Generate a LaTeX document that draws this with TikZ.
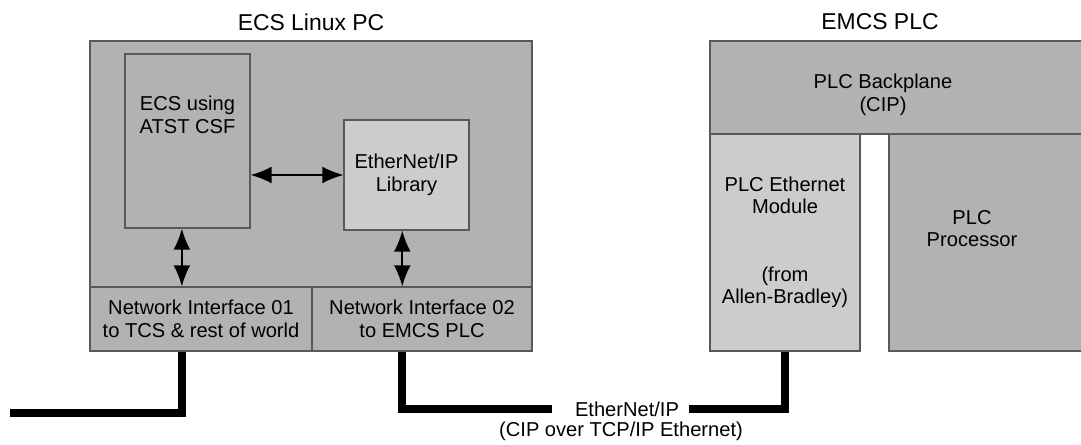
\documentclass[tikz,border=0pt]{standalone}
\usepackage{fontspec}
\setmainfont{Liberation Sans}
\usetikzlibrary{arrows.meta}

\tikzset{
    darkbox/.style={draw=black!65, line width=0.8pt, fill=black!30, inner sep=0pt, align=center},
    lightbox/.style={draw=black!65, line width=0.8pt, fill=black!20, inner sep=0pt, align=center},
    txt/.style={align=center, inner sep=0pt, font=\fontsize{14.3}{16}\selectfont},
    title/.style={inner sep=0pt, font=\fontsize{16.3}{18}\selectfont},
    link/.style={{Latex[length=15pt,width=12pt]}-{Latex[length=15pt,width=12pt]}, line width=1.3pt},
    cable/.style={line width=5.7pt, line join=miter}
}

\begin{document}
\begin{tikzpicture}[x=0.025cm, y=-0.025cm]
        \useasboundingbox (0,0) rectangle (1081,445);

        % Draw the ECS Linux PC and its parts
        \node[title] (pctitle) at (311,22) {ECS Linux PC};
        \node[darkbox, minimum width=11.05cm, minimum height=6.15cm] (pc) at (311,164) {};
        \node[darkbox, minimum width=3.125cm, minimum height=4.35cm] (ecs) at (187.5,141) {};
        \node[txt] (ecstext) at (187.5,115) {ECS using\\ATST CSF};
        \node[lightbox, txt, minimum width=3.125cm, minimum height=2.75cm] (lib) at (406.5,175) {EtherNet/IP\\Library};
        \node[darkbox, txt, minimum width=5.55cm, minimum height=1.6cm] (nic1) at (201,319) {Network Interface 01\\to TCS \& rest of world};
        \node[darkbox, txt, minimum width=5.5cm, minimum height=1.6cm] (nic2) at (422,319) {Network Interface 02\\to EMCS PLC};

        % Draw the arrows inside the PC
        \draw[link] (lib.west -| ecs.east) -- (lib.west);
        \draw[link] ([xshift=-4pt]ecs.south) -- ([xshift=-4pt]ecs.south |- nic1.north);
        \draw[link] ([xshift=-3pt]lib.south) -- ([xshift=-3pt]lib.south |- nic2.north);

        % Draw the EMCS PLC and its parts
        \node[title] (plctitle) at (880,22) {EMCS PLC};
        \node[darkbox, minimum width=9.75cm, minimum height=2.325cm] (bp) at (905,87.5) {};
        \node[txt] (bptext) at (883,95) {PLC Backplane\\(CIP)};
        \node[lightbox, txt, minimum width=3.75cm, minimum height=5.425cm] (eth) at (785,242.5) {PLC Ethernet\\Module\\[32pt](from\\Allen-Bradley)};
        \node[darkbox, minimum width=5.275cm, minimum height=5.425cm] (proc) at (994.5,242.5) {};
        \node[txt] (proctext) at (972,228.5) {PLC\\Processor};

        % Draw the network cables
        \coordinate (world) at (10,413);
        \node[txt] (eip) at (627,409) {EtherNet/IP};
        \node[txt] (eipsub) at (621,431) {(CIP over TCP/IP Ethernet)};
        \draw[cable] ([xshift=-4pt]ecs.south |- nic1.south) |- (world);
        \draw[cable] ([xshift=-3pt]lib.south |- nic2.south) |- ([xshift=-16pt]eip.west);
        \draw[cable] ([xshift=7pt]eip.east) -| (eth.south);
    \end{tikzpicture}
\end{document}
